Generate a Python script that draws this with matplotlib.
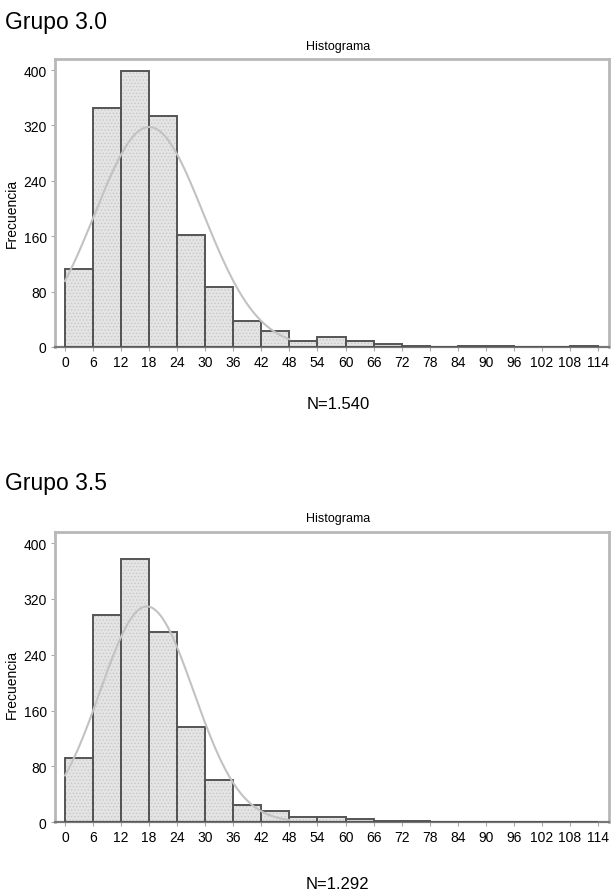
import matplotlib.pyplot as plt
import numpy as np

plt.rcParams['font.family'] = ['Liberation Sans', 'DejaVu Sans']
plt.rcParams['hatch.linewidth'] = 0.6

# bin edges (width 6) shared by both groups
edges = np.arange(0, 120, 6)
tick_labels = [str(v) for v in edges]

# counts per bin
counts_30 = [113, 345, 398, 333, 162, 87, 38, 23, 8, 14, 8, 4, 2, 0, 1, 1, 0, 0, 1]
counts_35 = [92, 297, 378, 272, 137, 61, 24, 16, 7, 7, 4, 2, 1, 0, 0, 0, 0, 0, 0]

# fitted normal curve parameters (mean, sd, n)
fit_30 = (18.0, 11.6, 1540)
fit_35 = (17.5, 10.0, 1292)

groups = ["Grupo 3.0", "Grupo 3.5"]
n_labels = ["N=1.540", "N=1.292"]

fig = plt.figure(figsize=(6.11, 8.95), dpi=100)

# axes rectangles in figure fraction
rects = [[0.090, 0.6112, 0.9067, 0.3218], [0.090, 0.0804, 0.9067, 0.3240]]
title_y = [1 - 22 / 895, 1 - 484 / 895]
hist_y = [1 - 47 / 895, 1 - 519 / 895]
n_y = [1 - 405 / 895, 1 - 885 / 895]
ylab_y = [1 - 213 / 895, 1 - 684 / 895]

for i, (counts, fit) in enumerate([(counts_30, fit_30), (counts_35, fit_35)]):
    ax = fig.add_axes(rects[i])
    left = edges[:-1]
    # dotted fill
    ax.bar(left, counts, width=6, align='edge', color='#e4e4e4',
           edgecolor='#c8c8c8', linewidth=0, hatch='.....', zorder=2)
    # outlines
    ax.bar(left, counts, width=6, align='edge', color='none',
           edgecolor='#555555', linewidth=1.4, zorder=3)

    mu, sd, n = fit
    xs = np.linspace(0, 48, 200)
    ys = n * 6 / (sd * np.sqrt(2 * np.pi)) * np.exp(-(xs - mu) ** 2 / (2 * sd ** 2))
    ax.plot(xs, ys, color='#c2c2c2', linewidth=1.5, zorder=4)

    ax.set_xlim(-2.14, 116.35)
    ax.set_ylim(0, 416)
    ax.set_xticks(edges)
    ax.set_xticklabels(tick_labels)
    ax.set_yticks([0, 80, 160, 240, 320, 400])
    ax.tick_params(axis='both', labelsize=10, length=3, width=0.8,
                   color='#aaaaaa', pad=3)
    for side in ['top', 'left', 'right']:
        ax.spines[side].set_color('#b8b8b8')
        ax.spines[side].set_linewidth(2)
    ax.spines['bottom'].set_color('#777777')
    ax.spines['bottom'].set_linewidth(1.6)

    fig.text(0.008, title_y[i], groups[i], fontsize=16.5, va='center', ha='left')
    fig.text(0.553, hist_y[i], "Histograma", fontsize=9, va='center', ha='center')
    fig.text(0.553, n_y[i], n_labels[i], fontsize=12, va='center', ha='center')
    fig.text(0.020, ylab_y[i], "Frecuencia", fontsize=10, rotation=90,
             va='center', ha='center')

plt.savefig("out.png", dpi=100)
